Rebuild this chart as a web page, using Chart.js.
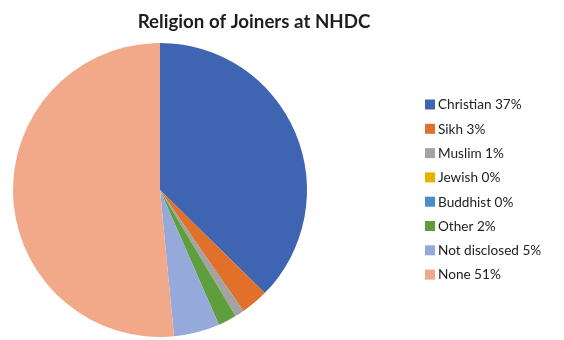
<!DOCTYPE html>
<html>
<head>
<meta charset="utf-8">
<script src="https://cdn.jsdelivr.net/npm/chart.js@4"></script>
<style>
  html, body { margin: 0; padding: 0; background: #fff; }
  #wrap { width: 564px; height: 340px; }
</style>
</head>
<body>
<div id="wrap"><canvas id="religionChart" width="564" height="340"></canvas></div>
<script>
// Religion of Joiners at NHDC - values in %
const chartTitle = 'Religion of Joiners at NHDC';
const categories = ['Christian', 'Sikh', 'Muslim', 'Jewish', 'Buddhist', 'Other', 'Not disclosed', 'None'];
const shares = [37, 3, 1, 0, 0, 2, 5, 51];
const sliceColors = ['#3F64B1', '#E0702A', '#A3A3A3', '#E8B200', '#4E8CC8', '#5E9E3C', '#95A9DB', '#F2A98A'];

// legend + title drawn by hand so they sit where the original has them
const sideLegend = {
    id: 'sideLegend',
    afterDraw(chart) {
        const ctx = chart.ctx;
        ctx.save();
        ctx.fillStyle = '#1e1e1e';
        ctx.font = 'bold 18.7px Lato';
        ctx.textAlign = 'center';
        ctx.textBaseline = 'middle';
        ctx.fillText(chartTitle, 254, 22);

        ctx.font = '13.6px Lato';
        ctx.textAlign = 'left';
        chart.data.labels.forEach(function(label, i) {
            const y = 104.5 + i * 24.3;
            ctx.fillStyle = sliceColors[i];
            ctx.fillRect(425, y - 5, 10, 10);
            ctx.fillStyle = '#222';
            ctx.fillText(label + ' ' + chart.data.datasets[0].data[i] + '%', 438, y + 0.5);
        });
        ctx.restore();
    }
};

new Chart(document.getElementById('religionChart'), {
    type: 'pie',
    data: {
        labels: categories,
        datasets: [{
            data: shares,
            backgroundColor: sliceColors,
            borderWidth: 0,
            hoverOffset: 0
        }]
    },
    options: {
        responsive: false,
        animation: false,
        layout: { padding: { left: 13, right: 257, top: 43, bottom: 3 } },
        plugins: {
            legend: { display: false },
            title: { display: false },
            tooltip: { enabled: false }
        }
    },
    plugins: [sideLegend]
});
</script>
</body>
</html>
